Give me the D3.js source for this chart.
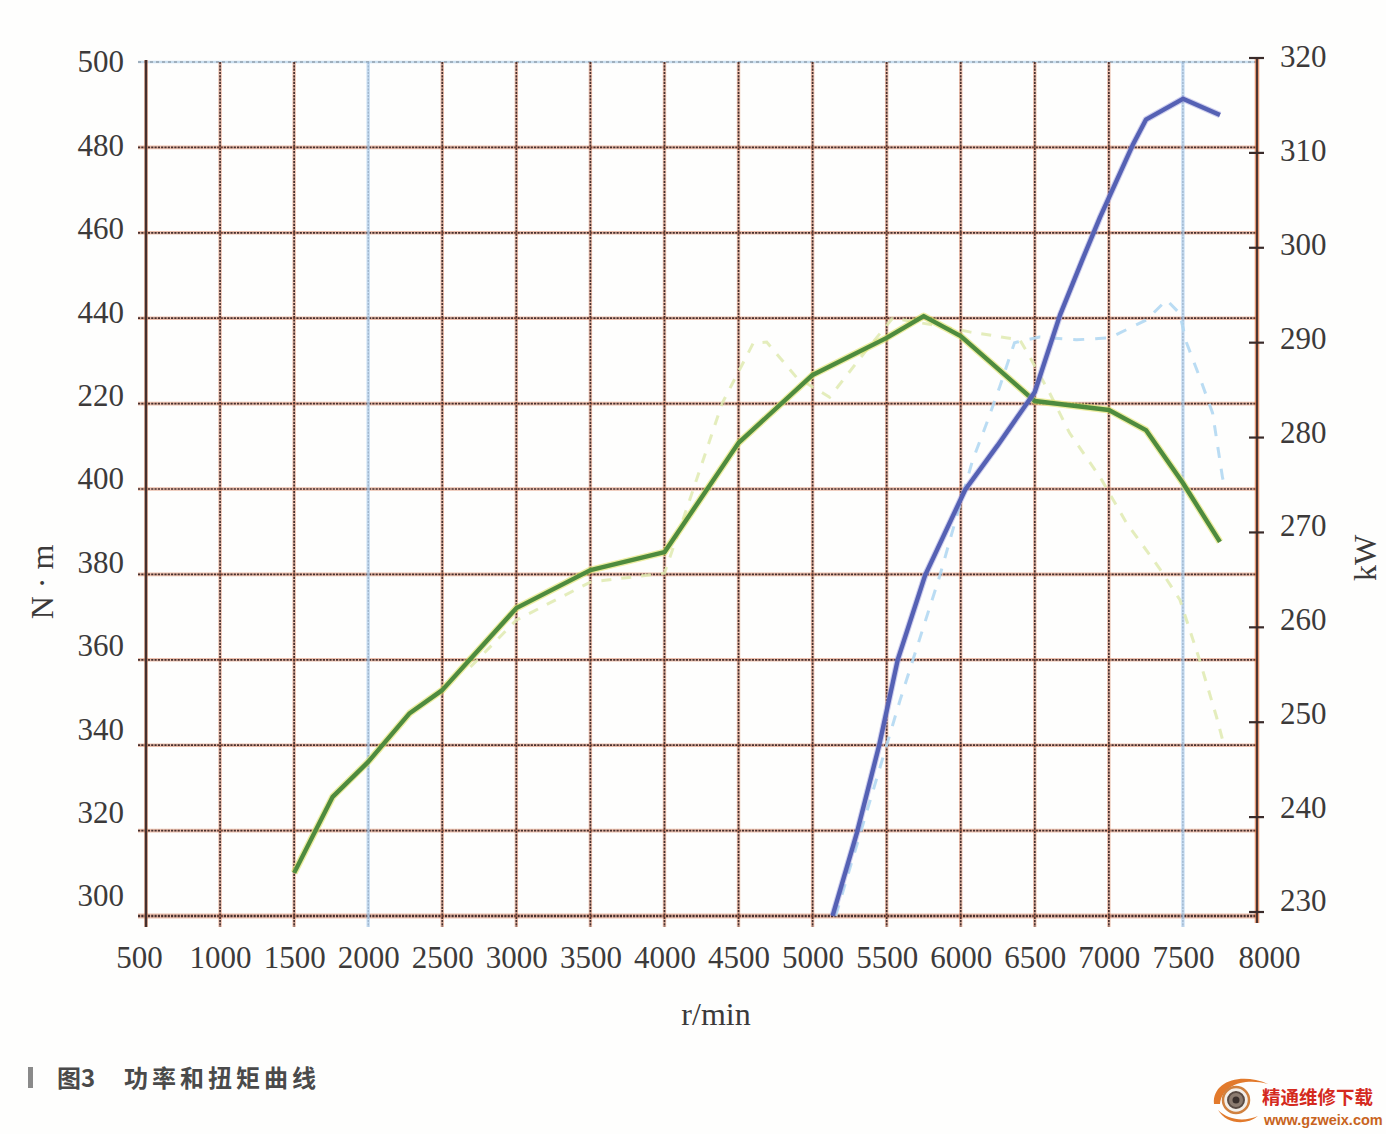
<!DOCTYPE html>
<html>
<head>
<meta charset="utf-8">
<script src="https://cdn.jsdelivr.net/npm/d3@7/dist/d3.min.js"></script>
<style>
  html, body { margin: 0; padding: 0; background: #fefefd; }
  svg { display: block; }
</style>
</head>
<body>
<svg id="chart" width="1386" height="1134"></svg>
<script>
// ---------------- data ----------------
const rpmTicks = [500,1000,1500,2000,2500,3000,3500,4000,4500,5000,5500,6000,6500,7000,7500,8000];
const torqueTicks = [300,320,340,360,380,400,420,440,460,480,500];
const torqueTickLabels = ["300","320","340","360","380","400","220","440","460","480","500"];
const powerTicks = [230,240,250,260,270,280,290,300,310,320];
const blueGridRpm = [2000, 7500];

// solid green: torque (N·m, left axis)
const torqueRpm = [1500,1760,2000,2280,2500,3000,3500,4000,4500,5000,5500,5750,6000,6500,7000,7250,7500,7750];
const torqueNm  = [310.1,327.9,336.1,347.5,352.9,372.1,381.0,385.2,410.8,426.7,435.4,440.5,435.8,420.6,418.5,413.8,401.4,387.6];

// solid blue: power (kW, right axis)
const powerRpm = [5135,5300,5450,5575,5760,6030,6250,6500,6670,6820,6940,7160,7250,7500,7750];
const powerKW  = [229.6,238.4,247.6,256.6,265.5,274.5,279.2,284.8,292.9,298.7,303.2,310.8,313.5,315.7,314.0];

// faint dashed yellow-green (left axis)
const refTorqueRpm = [2690,3000,3500,4000,4170,4390,4600,4690,4890,5115,5365,5540,5800,6060,6400,6465,6600,6735,6940,7120,7340,7480,7612,7727,7780];
const refTorqueNm  = [358.3,369.3,378.2,380.3,397.4,420.1,434.2,434.4,426.2,421.5,432.6,440.0,438.5,436.8,434.9,431.0,422.5,413.1,402.8,392.0,381.5,374.0,360.0,346.6,339.6];

// faint dashed light blue (right axis)
const refPowerRpm = [5156,5590,5860,6080,6175,6262,6363,6532,6781,7005,7254,7390,7477,7524,7612,7700,7767,7787];
const refPowerKW  = [229.6,252.3,265.5,277.6,281.5,285.3,290.0,290.6,290.3,290.5,292.4,294.5,293.1,290.0,286.4,282.6,275.8,274.5];

// ---------------- scales ----------------
const svg = d3.select("#chart");
const x  = d3.scaleLinear().domain([500, 8000]).range([146, 1257]);
const yL = d3.scaleLinear().domain([300, 500]).range([916, 62]);
const yR = d3.scaleLinear().domain([230, 320]).range([912, 58]);
// label placement (scan drift of the printed labels)
const yLlab = d3.scaleLinear().domain([300, 500]).range([896, 62]);
const yRlab = d3.scaleLinear().domain([230, 320]).range([901, 57]);

const serif = "'Liberation Serif', 'DejaVu Serif', serif";
const textCol = "#3c3a3a";

// ---------------- grid ----------------
const grid = svg.append("g");
const xLeft = 138, xRight = x(8000), yTop = yL(500), yBot = 927;

// horizontal gridlines
torqueTicks.forEach(v => {
  const y = yL(v);
  if (v === 500) {
    grid.append("line").attr("x1", xLeft).attr("x2", xRight).attr("y1", y).attr("y2", y)
      .attr("stroke", "rgba(165,200,230,0.6)").attr("stroke-width", 2.6);
    grid.append("line").attr("x1", xLeft).attr("x2", xRight).attr("y1", y).attr("y2", y)
      .attr("stroke", "#76808c").attr("stroke-width", 1.1).attr("stroke-dasharray", "3,3");
  } else {
    const thick = v === 300;
    grid.append("line").attr("x1", xLeft).attr("x2", xRight).attr("y1", y).attr("y2", y)
      .attr("stroke", "rgba(215,115,75,0.45)").attr("stroke-width", thick ? 5 : 3.6);
    grid.append("line").attr("x1", xLeft).attr("x2", xRight).attr("y1", y).attr("y2", y)
      .attr("stroke", "#47302e").attr("stroke-width", thick ? 2.4 : 1.7).attr("stroke-dasharray", "2.2,1.1");
  }
});

// vertical gridlines
rpmTicks.forEach(r => {
  const xx = x(r);
  if (r === 500 || r === 8000) return;
  const blue = blueGridRpm.includes(r);
  grid.append("line").attr("x1", xx).attr("x2", xx).attr("y1", yTop).attr("y2", yBot)
    .attr("stroke", blue ? "rgba(170,205,238,0.65)" : "rgba(215,115,75,0.45)").attr("stroke-width", 3.4);
  grid.append("line").attr("x1", xx).attr("x2", xx).attr("y1", yTop).attr("y2", yBot)
    .attr("stroke", blue ? "#8ea5bd" : "#47302e").attr("stroke-width", blue ? 1.0 : 1.7)
    .attr("stroke-dasharray", "2.2,1.1");
});

// left axis line
grid.append("line").attr("x1", x(500)).attr("x2", x(500)).attr("y1", yTop - 2).attr("y2", yBot)
  .attr("stroke", "rgba(200,110,70,0.5)").attr("stroke-width", 4);
grid.append("line").attr("x1", x(500)).attr("x2", x(500)).attr("y1", yTop - 2).attr("y2", yBot)
  .attr("stroke", "#45302e").attr("stroke-width", 2.3);

// right axis line
grid.append("line").attr("x1", x(8000)).attr("x2", x(8000)).attr("y1", yR(320)).attr("y2", yBot - 4)
  .attr("stroke", "rgba(215,110,60,0.7)").attr("stroke-width", 4.5);
grid.append("line").attr("x1", x(8000)).attr("x2", x(8000)).attr("y1", yR(320)).attr("y2", yBot - 4)
  .attr("stroke", "#45302e").attr("stroke-width", 1.9);

// right axis tick marks
powerTicks.forEach(v => {
  grid.append("line").attr("x1", x(8000) - 8).attr("x2", x(8000) + 7).attr("y1", yR(v)).attr("y2", yR(v))
    .attr("stroke", "#3a2b2a").attr("stroke-width", 2.2);
});

// ---------------- faint dashed reference curves ----------------
const lineL = d3.line().x(d => x(d[0])).y(d => yL(d[1]));
const lineR = d3.line().x(d => x(d[0])).y(d => yR(d[1]));

svg.append("path").datum(d3.zip(refTorqueRpm, refTorqueNm))
  .attr("d", lineL).attr("fill", "none")
  .attr("stroke", "#dfeab0").attr("stroke-width", 3).attr("stroke-dasharray", "10,10")
  .attr("opacity", 0.85);

svg.append("path").datum(d3.zip(refPowerRpm, refPowerKW))
  .attr("d", lineR).attr("fill", "none")
  .attr("stroke", "#b2d8f2").attr("stroke-width", 3).attr("stroke-dasharray", "11,11")
  .attr("opacity", 0.9);

// ---------------- main curves ----------------
const torqueData = d3.zip(torqueRpm, torqueNm);
svg.append("path").datum(torqueData).attr("d", lineL).attr("fill", "none")
  .attr("stroke", "rgba(225,225,100,0.6)").attr("stroke-width", 7).attr("stroke-linejoin", "round");
svg.append("path").datum(torqueData).attr("d", lineL).attr("fill", "none")
  .attr("stroke", "#4e8b3e").attr("stroke-width", 4.4).attr("stroke-linejoin", "round");

const powerData = d3.zip(powerRpm, powerKW);
svg.append("path").datum(powerData).attr("d", lineR).attr("fill", "none")
  .attr("stroke", "rgba(150,150,220,0.45)").attr("stroke-width", 6.5).attr("stroke-linejoin", "round");
svg.append("path").datum(powerData).attr("d", lineR).attr("fill", "none")
  .attr("stroke", "#5561b4").attr("stroke-width", 4.4).attr("stroke-linejoin", "round");

// ---------------- axis labels via d3 axes ----------------
const leftAxis = d3.axisLeft(yLlab).tickValues(torqueTicks)
  .tickFormat((d, i) => torqueTickLabels[i]).tickSize(0).tickPadding(0);
const gL = svg.append("g").attr("transform", "translate(124,0)").call(leftAxis);
gL.select(".domain").remove();
gL.selectAll("text").attr("font-family", serif).attr("font-size", 31).attr("fill", textCol);

const rightAxis = d3.axisRight(yRlab).tickValues(powerTicks).tickSize(0).tickPadding(0);
const gR = svg.append("g").attr("transform", "translate(1280,0)").call(rightAxis);
gR.select(".domain").remove();
gR.selectAll("text").attr("font-family", serif).attr("font-size", 31).attr("fill", textCol);

const bottomAxis = d3.axisBottom(x).tickValues(rpmTicks).tickFormat(d3.format("d")).tickSize(0).tickPadding(0);
const gB = svg.append("g").attr("transform", "translate(0,946)").call(bottomAxis);
gB.select(".domain").remove();
gB.selectAll("text").attr("font-family", serif).attr("font-size", 31).attr("fill", textCol);
// small optical adjustments of the end labels (as printed)
gB.selectAll(".tick").filter(d => d === 500).select("text").attr("dx", -7);
gB.selectAll(".tick").filter(d => d === 8000).select("text").attr("dx", 12);

// axis titles
svg.append("text").attr("x", 716).attr("y", 1025).attr("text-anchor", "middle")
  .attr("font-family", serif).attr("font-size", 32).attr("fill", textCol).text("r/min");

svg.append("text").attr("transform", "translate(53,582) rotate(-90)").attr("text-anchor", "middle")
  .attr("font-family", serif).attr("font-size", 32).attr("fill", textCol).text("N · m");

svg.append("text").attr("transform", "translate(1376,558) rotate(-90)").attr("text-anchor", "middle")
  .attr("font-family", serif).attr("font-size", 32).attr("fill", textCol).text("kW");

// ---------------- caption ----------------
svg.append("rect").attr("x", 28).attr("y", 1067).attr("width", 5).attr("height", 21).attr("fill", "#8a8a8a");
svg.append("text").attr("x", 57).attr("y", 1087)
  .attr("font-family", "'Noto Sans CJK SC', sans-serif").attr("font-weight", "bold")
  .attr("font-size", 24).attr("fill", "#4a4a4a").text("图3");
svg.append("text").attr("x", 124).attr("y", 1087)
  .attr("font-family", "'Noto Sans CJK SC', sans-serif").attr("font-weight", "bold")
  .attr("font-size", 24).attr("letter-spacing", "4px").attr("fill", "#4a4a4a").text("功率和扭矩曲线");

// ---------------- watermark ----------------
const wm = svg.append("g");
wm.append("path").attr("d", "M1214,1104 C1212,1082 1240,1072 1268,1084 C1246,1078 1222,1084 1220,1104 Z")
  .attr("fill", "#e27a2c");
wm.append("path").attr("d", "M1218,1110 C1226,1124 1246,1126 1258,1116 C1244,1122 1228,1120 1218,1110 Z")
  .attr("fill", "#e27a2c");
wm.append("circle").attr("cx", 1236).attr("cy", 1100).attr("r", 13).attr("fill", "#f3efe9")
  .attr("stroke", "#d0813f").attr("stroke-width", 2.5);
wm.append("circle").attr("cx", 1236).attr("cy", 1100).attr("r", 8).attr("fill", "#8c7c70")
  .attr("stroke", "#5a4c44").attr("stroke-width", 2);
wm.append("circle").attr("cx", 1236).attr("cy", 1100).attr("r", 3.5).attr("fill", "#3a302c");
wm.append("text").attr("x", 1262).attr("y", 1104)
  .attr("font-family", "'Noto Sans CJK SC', sans-serif").attr("font-weight", "bold")
  .attr("font-size", 18.5).attr("fill", "#d42a1e").text("精通维修下载");
wm.append("text").attr("x", 1264).attr("y", 1125)
  .attr("font-family", "'Liberation Sans', Arial, sans-serif").attr("font-weight", "bold")
  .attr("font-size", 14.5).attr("fill", "#c8641e").text("www.gzweix.com");
</script>
</body>
</html>
